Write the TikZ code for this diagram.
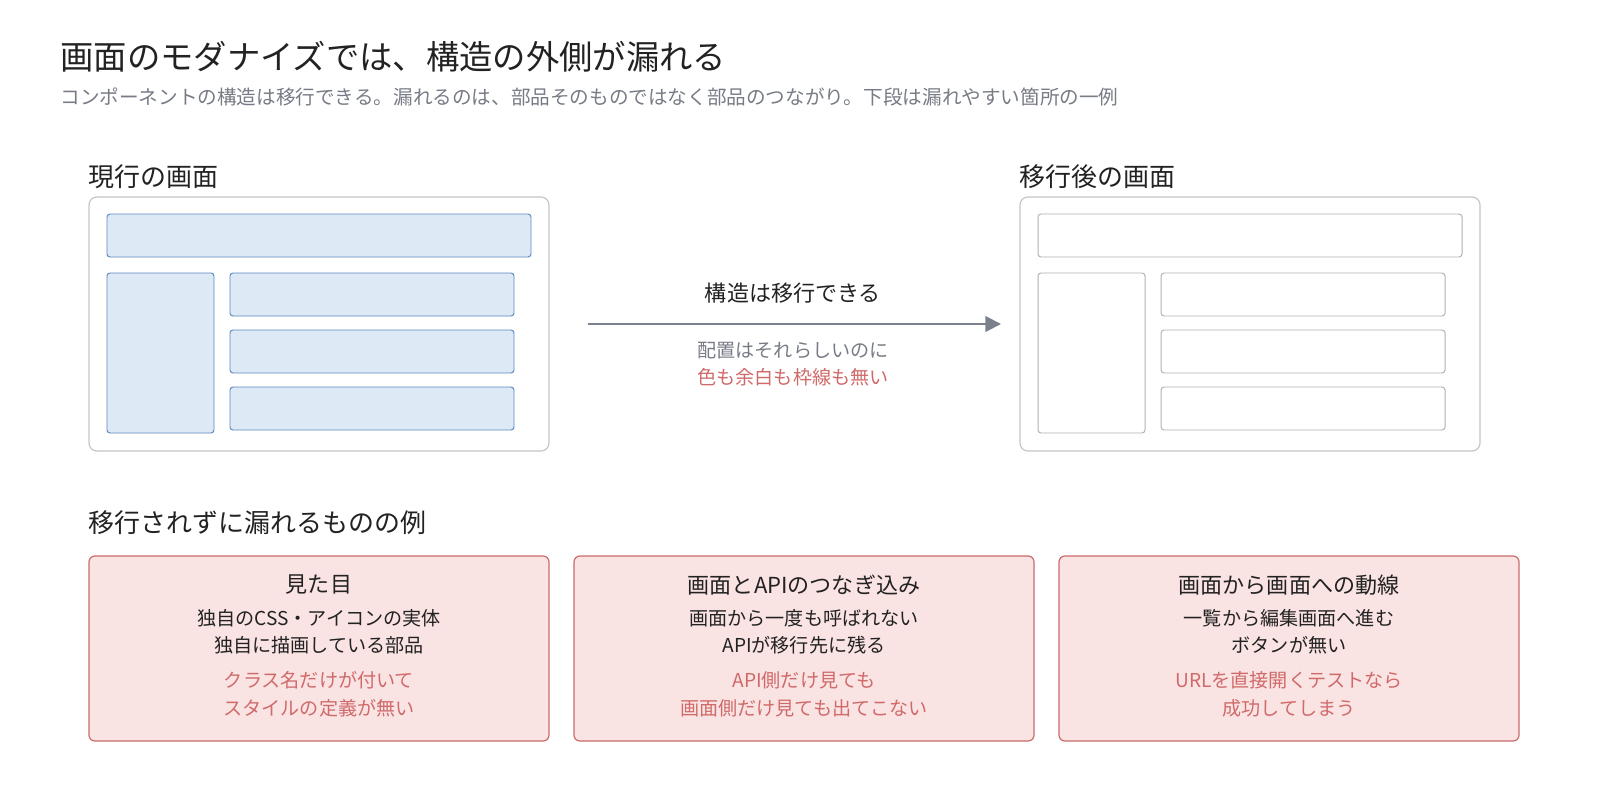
\documentclass[tikz,border=0pt]{standalone}
\usepackage{fontspec}
\setmainfont{Noto Sans CJK JP}
\usetikzlibrary{arrows.meta}
\definecolor{txt}{HTML}{222222}
\definecolor{sub}{HTML}{777B85}
\definecolor{redt}{HTML}{D06A6A}
\definecolor{bfill}{HTML}{DEE9F6}
\definecolor{bline}{HTML}{5B8AC0}
\definecolor{gline}{HTML}{C4C4C8}
\definecolor{pfill}{HTML}{FAE3E3}
\definecolor{pline}{HTML}{C96A6A}
\definecolor{arr}{HTML}{7A808C}
\tikzset{
 frame/.style={draw=gline,line width=1.2pt,rounded corners=8pt},
 blue/.style={draw=bline,fill=bfill,line width=1pt,rounded corners=3pt},
 grey/.style={draw=gline!90!black,line width=1pt,rounded corners=3pt},
 card/.style={draw=pline,fill=pfill,line width=1.2pt,rounded corners=6pt},
 head/.style={anchor=west,font=\fontsize{26.5}{30}\selectfont,text=txt},
 ct/.style={font=\fontsize{22.5}{26}\selectfont,text=txt},
 cl/.style={font=\fontsize{19.5}{24}\selectfont,text=txt,align=center},
 cr/.style={font=\fontsize{19.5}{24}\selectfont,text=redt,align=center},
}
\begin{document}
\begin{tikzpicture}[x=1.02pt,y=-1.02pt]
\useasboundingbox (0,0) rectangle (1600,810);
\node[anchor=west,font=\fontsize{34}{38}\selectfont,text=txt] (title) at (57,57) {画面のモダナイズでは、構造の外側が漏れる};
\node[anchor=west,font=\fontsize{20}{24}\selectfont,text=sub] (subt) at (57,97) {コンポーネントの構造は移行できる。漏れるのは、部品そのものではなく部品のつながり。下段は漏れやすい箇所の一例};
\node[head] (h1) at (85,177) {現行の画面};
\node[head] (h2) at (1016,177) {移行後の画面};
\node[head] (h3) at (85,523) {移行されずに漏れるものの例};
% left
\draw[frame] (89,197) rectangle (549,451);
\draw[blue] (107,214) rectangle (531,257);
\draw[blue] (107,273) rectangle (214,433);
\draw[blue] (230,273) rectangle (514,316);
\draw[blue] (230,330) rectangle (514,373);
\draw[blue] (230,387) rectangle (514,430);
% right
\draw[frame] (1020,197) rectangle (1480,451);
\draw[grey] (1038,214) rectangle (1462,257);
\draw[grey] (1038,273) rectangle (1145,433);
\draw[grey] (1161,273) rectangle (1445,316);
\draw[grey] (1161,330) rectangle (1445,373);
\draw[grey] (1161,387) rectangle (1445,430);
% arrow
\coordinate (a1) at (588,324); \coordinate (a2) at (1001,324);
\draw[arr,line width=2.2pt,-{Triangle[length=16pt,width=16pt]}] (a1) -- (a2);
\node[ct] (al) at (793,293) {構造は移行できる};
\node[cl,text=sub] (b1) at (793,351) {配置はそれらしいのに};
\node[cr] (b2) at (793,377) {色も余白も枠線も無い};
% cards
\foreach \x/\t/\la/\lb/\ra/\rb in {
 89/見た目/独自のCSS・アイコンの実体/独自に描画している部品/クラス名だけが付いて/スタイルの定義が無い,
 574/画面とAPIのつなぎ込み/画面から一度も呼ばれない/APIが移行先に残る/API側だけ見ても/画面側だけ見ても出てこない,
 1059/画面から画面への動線/一覧から編集画面へ進む/ボタンが無い/URLを直接開くテストなら/成功してしまう}{
 \draw[card] (\x,556) rectangle ++(460,185);
 \node[ct] at (\x+230,585) {\t};
 \node[cl] at (\x+230,618) {\la};
 \node[cl] at (\x+230,645) {\lb};
 \node[cr] at (\x+230,680) {\ra};
 \node[cr] at (\x+230,708) {\rb};
}
\end{tikzpicture}
\end{document}
